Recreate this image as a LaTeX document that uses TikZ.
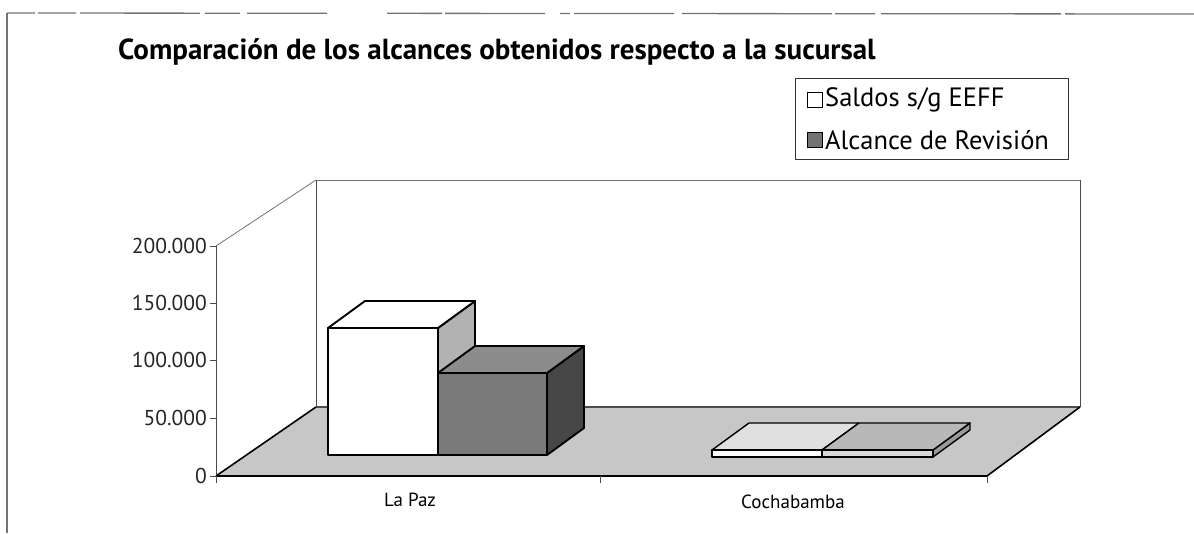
\documentclass[tikz,border=0pt]{standalone}
\usepackage{fontspec}
\setmainfont{PT Sans}
\begin{document}
\begin{tikzpicture}[x=1pt,y=-1pt,
  frameline/.style={draw=black!55, line width=1.3pt},
  thinline/.style={draw=black!70, line width=0.8pt},
  barline/.style={draw=black, line width=1.9pt, line join=round},
  edgeline/.style={draw=black, line width=1.6pt},
  ylab/.style={anchor=east, font=\fontsize{21.5}{25}\selectfont, text=black!85, inner sep=0pt},
  catlab/.style={font=\fontsize{19}{22}\selectfont, inner sep=0pt},
  legtext/.style={anchor=west, font=\fontsize{26.5}{30}\selectfont, inner sep=0pt},
  legsym/.style={draw=black, line width=1.3pt, minimum size=15pt, inner sep=0pt},
  floorfill/.style={fill=black!22},
  white face/.style={fill=white},
  light face/.style={fill=black!30},
  dark front/.style={fill=black!52},
  dark top/.style={fill=black!45},
  dark side/.style={fill=black!72}
]
\useasboundingbox (0,0) rectangle (1194,533);

% outer frame
\coordinate (fTL) at (7,13);
\coordinate (fBL) at (7,533);
\coordinate (fTR) at (1194,14);
\draw[frameline] (fBL) -- (fTL);
\draw[frameline, dash pattern=on 28pt off 3pt on 38pt off 4pt on 120pt off 5pt on 35pt off 7pt on 80pt off 60pt on 55pt off 3pt on 100pt off 15pt on 10pt off 4pt on 100pt off 8pt on 150pt off 3pt on 40pt off 6pt on 180pt off 4pt on 140pt off 1pt]
  (fTL) -- (fTR);

% title
\node[font=\bfseries\fontsize{29}{34}\selectfont, inner sep=0pt] (title) at (497,52)
  {Comparación de los alcances obtenidos respecto a la sucursal};

% legend
\node[draw=black!80, line width=0.9pt, minimum width=273pt, minimum height=81pt, inner sep=0pt] (legend) at (931.5,118.5) {};
\node[legsym, fill=white] (sym1) at (815,100) {};
\node[legtext] (leg1) at (825,100) {Saldos s/g EEFF};
\node[legsym, fill=black!55] (sym2) at (815,140) {};
\node[legtext] (leg2) at (825,140) {Alcance de Revisión};

% chart frame coordinates
\coordinate (bwTL) at (316,180);
\coordinate (bwTR) at (1080,180);
\coordinate (bwBL) at (316,407);
\coordinate (bwBR) at (1080,407);
\coordinate (lwT) at (216,246);
\coordinate (lwB) at (216,476);
\coordinate (flR) at (987,476);

% back wall & left wall
\fill[white] (bwTL) rectangle (bwBR);
\draw[thinline, draw=black!55] (bwTL) -- (bwTR);
\draw[thinline] (bwTR) -- (bwBR);
\draw[thinline] (bwTL) -- (bwBL);
\draw[thinline, draw=black!55] (lwT) -- (bwTL);
\draw[thinline] (lwT) -- (lwB);

% floor
\path[floorfill] (lwB) -- (flR) -- (bwBR) -- (bwBL) -- cycle;
\draw[thinline, line width=1.2pt] (bwBL) -- (bwBR);
\draw[edgeline] (lwB) -- (bwBL);
\draw[edgeline] (flR) -- (bwBR);
\draw[edgeline] (lwB) -- (flR);

% y ticks and labels
\foreach \v/\y/\t in {0/476/0, 1/418/50.000, 2/360/100.000, 3/303/150.000, 4/246/200.000}{
  \coordinate (yt\v) at (216,\y);
  \coordinate (ytl\v) at (210,\y);
  \draw[thinline] (ytl\v) -- (yt\v);
  \node[ylab] (ylab\v) at (207,\y) {\t};
}
% category ticks
\foreach \n/\x in {a/216,b/600,c/987}{
  \coordinate (ct\n) at (\x,476);
  \coordinate (ctb\n) at (\x,483);
  \draw[thinline] (ct\n) -- (ctb\n);
}
\node[catlab] (catLP) at (410,500) {La Paz};
\node[catlab] (catCB) at (793,502) {Cochabamba};

% bar 1 (La Paz, Saldos)
\coordinate (a1) at (328,455); \coordinate (a2) at (438,455);
\coordinate (a3) at (438,328); \coordinate (a4) at (328,328);
\coordinate (a5) at (365,301); \coordinate (a6) at (475,301);
\coordinate (a7) at (475,428);
\path[barline, light face] (a2) -- (a3) -- (a6) -- (a7) -- cycle;
\path[barline, white face] (a4) -- (a3) -- (a6) -- (a5) -- cycle;
\path[barline, white face] (a1) -- (a2) -- (a3) -- (a4) -- cycle;

% bar 2 (La Paz, Alcance)
\coordinate (b1) at (438,455); \coordinate (b2) at (547,455);
\coordinate (b3) at (547,373); \coordinate (b4) at (438,373);
\coordinate (b5) at (475,346); \coordinate (b6) at (584,346);
\coordinate (b7) at (584,428);
\path[barline, dark side] (b2) -- (b3) -- (b6) -- (b7) -- cycle;
\path[barline, dark top] (b4) -- (b3) -- (b6) -- (b5) -- cycle;
\path[barline, dark front] (b1) -- (b2) -- (b3) -- (b4) -- cycle;

% Cochabamba slabs
\coordinate (c1) at (712,457); \coordinate (c2) at (822,457);
\coordinate (c3) at (822,450); \coordinate (c4) at (712,450);
\coordinate (c5) at (749,423); \coordinate (c6) at (859,423);
\path[barline, line width=1.4pt, fill=black!12] (c4) -- (c3) -- (c6) -- (c5) -- cycle;
\path[barline, line width=1.4pt, white face] (c1) -- (c2) -- (c3) -- (c4) -- cycle;

\coordinate (d1) at (822,457); \coordinate (d2) at (933,457);
\coordinate (d3) at (933,450); \coordinate (d4) at (822,450);
\coordinate (d5) at (859,423); \coordinate (d6) at (970,423);
\coordinate (d7) at (970,430);
\path[barline, line width=1.4pt, fill=black!40] (d2) -- (d3) -- (d6) -- (d7) -- cycle;
\path[barline, line width=1.4pt, fill=black!28] (d4) -- (d3) -- (d6) -- (d5) -- cycle;
\path[barline, line width=1.4pt, fill=black!15] (d1) -- (d2) -- (d3) -- (d4) -- cycle;
\end{tikzpicture}
\end{document}
